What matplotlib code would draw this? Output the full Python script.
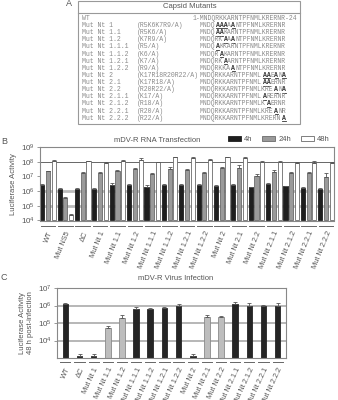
import re
from itertools import groupby

import numpy as np
import matplotlib
matplotlib.use("Agg")
import matplotlib.pyplot as plt
from matplotlib.patches import Rectangle
from matplotlib.transforms import blended_transform_factory


plt.rcParams["font.family"] = ["Liberation Sans", "DejaVu Sans"]
plt.rcParams["mathtext.default"] = "regular"

# panel A: capsid mutant table
WT_SEQ = "MNDQRKKARNTPFNMLKRERNR"
mutant_names = [
    "Mut Nt 1", "Mut Nt 1.1", "Mut Nt 1.2", "Mut Nt 1.1.1", "Mut Nt 1.1.2",
    "Mut Nt 1.2.1", "Mut Nt 1.2.2", "Mut Nt 2", "Mut Nt 2.1", "Mut Nt 2.2",
    "Mut Nt 2.1.1", "Mut Nt 2.1.2", "Mut Nt 2.2.1", "Mut Nt 2.2.2",
]
mutant_changes = [
    "(R5K6K7R9/A)", "(R5K6/A)", "(K7R9/A)", "(R5/A)", "(K6/A)", "(K7/A)",
    "(R9/A)", "(K17R18R20R22/A)", "(K17R18/A)", "(R20R22/A)", "(K17/A)",
    "(R18/A)", "(R20/A)", "(R22/A)",
]

# panel B: mDV-R RNA transfection, luciferase activity
groups_b = [
    "WT", "Mut NS5", "\u0394C", "Mut Nt 1", "Mut Nt 1.1", "Mut Nt 1.2",
    "Mut Nt 1.1.1", "Mut Nt 1.1.2", "Mut Nt 1.2.1", "Mut Nt 1.2.2", "Mut Nt 2",
    "Mut Nt 2.1", "Mut Nt 2.2", "Mut Nt 2.1.1", "Mut Nt 2.1.2", "Mut Nt 2.2.1",
    "Mut Nt 2.2.2",
]
rna_4h = [2.7e6, 1.4e6, 1.5e6, 1.5e6, 2.7e6, 2.5e6, 2.0e6, 2.6e6, 2.7e6,
          2.7e6, 2.2e6, 2.8e6, 1.8e6, 2.9e6, 2.1e6, 1.6e6, 1.5e6]
rna_4h_err = [0.3e6, 0.2e6, 0.2e6, 0.15e6, 0.9e6, 0.4e6, 0.6e6, 0.5e6, 0.3e6,
              0.4e6, 0.3e6, 0.3e6, 0.2e6, 0.8e6, 0.3e6, 0.2e6, 0.15e6]
rna_24h = [2.2e7, 3.6e5, 1.6e7, 1.6e7, 2.3e7, 3.3e7, 1.5e7, 3.4e7, 2.9e7,
           1.8e7, 3.5e7, 4.0e7, 1.0e7, 2.1e7, 1.6e7, 1.6e7, 9.5e6]
rna_24h_err = [3e6, 3e4, 5e6, 5e6, 3e6, 3e6, 3e6, 1.2e7, 5e6, 3e6, 1.2e7,
               2.3e7, 4e6, 6e6, 4e6, 4e6, 7e6]
rna_48h = [1.15e8, 2.5e4, 1.05e8, 8.0e7, 1.05e8, 1.35e8, 9.0e7, 2.0e8, 1.8e8,
           1.4e8, 2.0e8, 1.75e8, 1.0e8, 1.0e8, 8.8e7, 8.0e7, 8.5e7]
rna_48h_err = [1.5e7, 3e3, 1.5e7, 1e7, 3e7, 4e7, 1.2e7, 2e7, 2e7, 2e7, 2e7,
               2e7, 1.5e7, 1.5e7, 1.5e7, 3e7, 1.5e7]

# panel C: mDV-R virus infection, luciferase activity 48 h post-infection
groups_c = [
    "WT", "\u0394C", "Mut Nt 1", "Mut Nt 1.1", "Mut Nt 1.2", "Mut Nt 1.1.1",
    "Mut Nt 1.1.2", "Mut Nt 1.2.1", "Mut Nt 1.2.2", "Mut Nt 2", "Mut Nt 2.1",
    "Mut Nt 2.2", "Mut Nt 2.1.1", "Mut Nt 2.1.2", "Mut Nt 2.2.1", "Mut Nt 2.2.2",
]
virus_48h = [1.25e6, 1.3e3, 1.3e3, 4.9e4, 1.9e5, 6.0e5, 6.0e5, 7.5e5, 1.0e6,
             1.3e3, 2.1e5, 2.1e5, 1.15e6, 1.0e6, 1.0e6, 1.0e6]
virus_48h_err = [1.5e5, 0.5e3, 0.5e3, 2e4, 8e4, 2e5, 1.5e5, 1e5, 1.5e5, 0.5e3,
                 8e4, 5e4, 5e5, 4e5, 1e5, 4e5]
reduced_c = {"Mut Nt 1.1", "Mut Nt 1.2", "Mut Nt 2.1", "Mut Nt 2.2"}

W, H = 338, 400
TXT = "#555555"
EDGE = "#888888"


def draw_table(ax):
    ax.add_patch(Rectangle((78, 0.5), 222, 123.5, fill=False, ec="#999999", lw=0.8))
    ax.plot([78, 300], [13, 13], color="#999999", lw=0.8)
    ax.text(190, 7, "Capsid Mutants", ha="center", va="center", fontsize=5.5, color=TXT)
    ax.text(69, 3, "A", ha="center", va="center", fontsize=6.5, color=TXT)

    mono = "Liberation Mono"
    fs = 4.7
    cw = 0.6 * fs * 100 / 72
    x_name, x_change, x_seq = 81.5, 136.5, 200.0
    y0, dy = 18.3, 7.14
    grey = "#8a8a8a"

    ax.text(x_name, y0, "WT", family=mono, fontsize=fs, color=grey, va="center")
    ax.text(x_seq - 2 * cw, y0, "1-" + WT_SEQ + "-24", family=mono, fontsize=fs,
            color=grey, va="center")
    for row, (name, change) in enumerate(zip(mutant_names, mutant_changes), start=1):
        y = y0 + row * dy
        ax.text(x_name, y, name, family=mono, fontsize=fs, color=grey, va="center")
        ax.text(x_change, y, change, family=mono, fontsize=fs, color=grey, va="center")
        positions = [int(p) for p in re.findall(r"\d+", change.split("/")[0])]
        flags = [i + 1 in positions for i in range(len(WT_SEQ))]
        start = 0
        # runs of unchanged residues in grey, substituted alanines in bold
        for mutated, run in groupby(flags):
            n = len(list(run))
            xr = x_seq + start * cw
            if mutated:
                ax.text(xr, y, "A" * n, family=mono, fontsize=fs, fontweight="bold",
                        color="#333333", va="center")
                ax.plot([xr + 0.2, xr + n * cw - 0.2], [y + 3.0, y + 3.0],
                        color="#333333", lw=0.6)
            else:
                ax.text(xr, y, WT_SEQ[start:start + n], family=mono, fontsize=fs,
                        color=grey, va="center")
            start += n


def style_axes(ax):
    for side in ax.spines.values():
        side.set_color(EDGE)
        side.set_linewidth(0.8)
    ax.tick_params(axis="y", which="major", length=2, width=0.6, color=EDGE,
                   labelsize=5.8, labelcolor=TXT, pad=1.5)
    ax.tick_params(axis="y", which="minor", length=0)
    ax.tick_params(axis="x", length=0, labelsize=5.3, labelcolor=TXT)


def underline_groups(ax, x, half, y):
    trans = blended_transform_factory(ax.transData, ax.transAxes)
    for xi in x:
        ax.plot([xi - half, xi + half], [y, y], color="#666666", lw=0.7,
                transform=trans, clip_on=False)


fig = plt.figure(figsize=(W / 100, H / 100), dpi=100)
ax_a = fig.add_axes([0, 0, 1, 1])
ax_a.set_xlim(0, W)
ax_a.set_ylim(H, 0)
ax_a.axis("off")
draw_table(ax_a)

# panel B
ax_b = fig.add_axes([40 / W, 1 - 220.5 / H, 294 / W, 73.5 / H])
x_b = np.arange(len(groups_b))
bw, step = 0.24, 0.33
series = [
    ("4h", rna_4h, rna_4h_err, "#1e1e1e", "#1e1e1e"),
    ("24h", rna_24h, rna_24h_err, "#9a9a9a", "#6a6a6a"),
    ("48h", rna_48h, rna_48h_err, "white", "#6a6a6a"),
]
for k, (label, vals, err, fc, ec) in enumerate(series):
    xs = x_b + (k - 1) * step
    vals = np.asarray(vals)
    ax_b.bar(xs, vals - 1e4, bottom=1e4, width=bw, color=fc, edgecolor=ec,
             linewidth=0.6, label=label, zorder=2)
    ax_b.errorbar(xs, vals, yerr=[np.zeros(len(vals)), err], fmt="none",
                  ecolor="#555555", elinewidth=0.6, capsize=1.2, capthick=0.6, zorder=3)
ax_b.set_yscale("log")
ax_b.set_ylim(1e4, 1e9)
ax_b.set_yticks([1e4, 1e5, 1e6, 1e7, 1e8, 1e9])
ax_b.set_xlim(-0.46, len(groups_b) - 0.54)
ax_b.axhline(1e8, color="#666666", lw=0.7, zorder=1)
for level in (1e5, 1e6):
    ax_b.axhline(level, color="#bbbbbb", lw=2.0, zorder=1)
style_axes(ax_b)
ax_b.set_xticks(x_b)
ax_b.set_xticklabels(groups_b, rotation=68, ha="right", va="top",
                     rotation_mode="anchor")
ax_b.tick_params(axis="x", pad=7)
underline_groups(ax_b, x_b, 0.42, -0.075)
ax_b.set_ylabel("Luciferase Activity", fontsize=5.5, color=TXT, labelpad=3)
ax_b.legend(loc="lower right", bbox_to_anchor=(1.0, 1.0), ncol=3, frameon=False,
            fontsize=5.5, handlelength=1.7, handleheight=0.6, columnspacing=1.3,
            handletextpad=0.4, borderaxespad=0.15, labelcolor=TXT)
ax_a.text(157, 141, "mDV-R RNA Transfection", ha="center", va="center",
          fontsize=5.5, color=TXT)
ax_a.text(4, 141, "B", ha="center", va="center", fontsize=6.5, color=TXT)

# panel C
ax_c = fig.add_axes([57 / W, 1 - 358 / H, 229 / W, 70 / H])
x_c = np.arange(len(groups_c))
vals_c = np.asarray(virus_48h)
colors_c = ["#bdbdbd" if g in reduced_c else "#252525" for g in groups_c]
edges_c = ["#8a8a8a" if g in reduced_c else "#252525" for g in groups_c]
ax_c.bar(x_c, vals_c - 1e3, bottom=1e3, width=0.4, color=colors_c,
         edgecolor=edges_c, linewidth=0.6, zorder=2)
ax_c.errorbar(x_c, vals_c, yerr=[np.zeros(len(vals_c)), virus_48h_err], fmt="none",
              ecolor="#555555", elinewidth=0.6, capsize=1.4, capthick=0.6, zorder=3)
ax_c.set_yscale("log")
ax_c.set_ylim(1e3, 1e7)
ax_c.set_yticks([1e4, 1e5, 1e6, 1e7])
ax_c.set_xlim(-0.59, len(groups_c) - 0.41)
for level in (1e4, 1e5, 1e6):
    ax_c.axhline(level, color="#aaaaaa", lw=1.2, zorder=1)
style_axes(ax_c)
ax_c.set_xticks(x_c)
ax_c.set_xticklabels(groups_c, rotation=65, ha="right", va="top",
                     rotation_mode="anchor")
ax_c.tick_params(axis="x", pad=6)
underline_groups(ax_c, x_c, 0.36, -0.057)
ax_c.set_ylabel("Luciferase Activity\n48 h post-infection", fontsize=5.5,
                color=TXT, labelpad=3, linespacing=1.1)
ax_a.text(176, 279, "mDV-R Virus Infection", ha="center", va="center",
          fontsize=5.5, color=TXT)
ax_a.text(4, 278, "C", ha="center", va="center", fontsize=6.5, color=TXT)

fig.savefig("out.png", dpi=100)
